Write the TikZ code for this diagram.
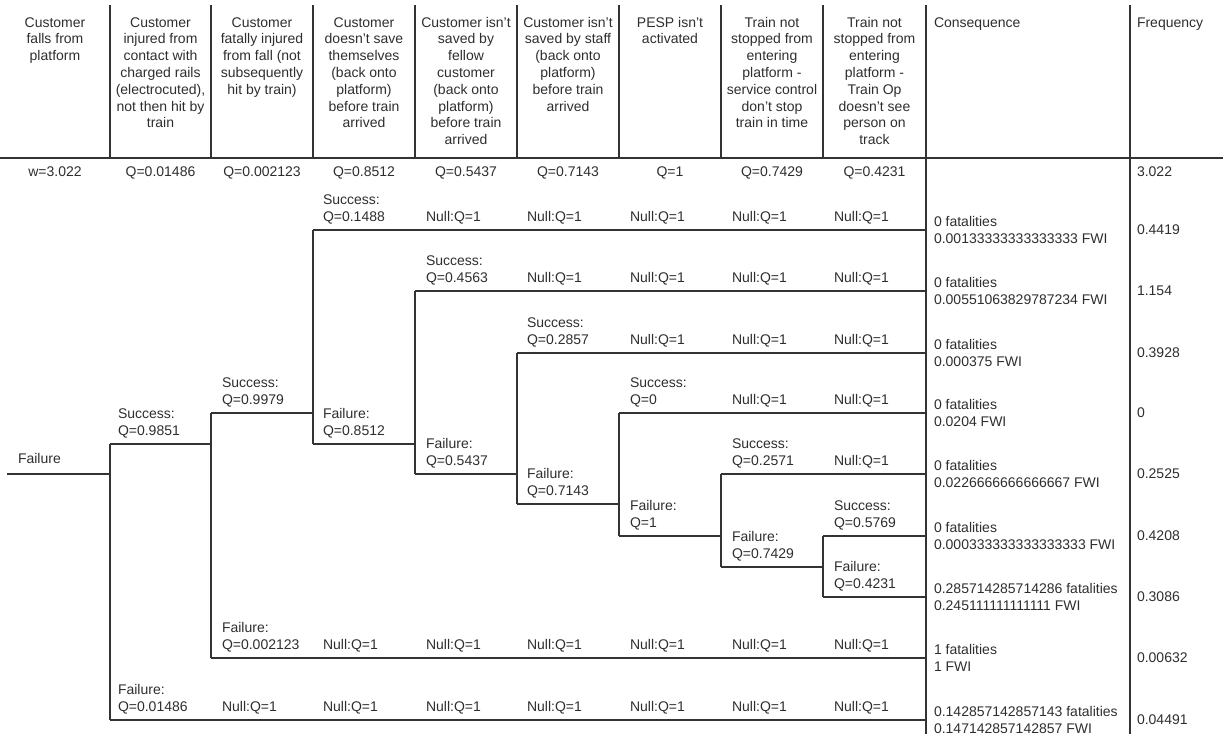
\documentclass[tikz,border=0pt]{standalone}
\usepackage{fontspec}
\setmainfont{Liberation Sans}
\definecolor{ln}{HTML}{333333}
\definecolor{tx}{HTML}{2E2E2E}
\begin{document}
\begin{tikzpicture}[x=1pt,y=-1pt,
  font=\fontsize{14}{16.8}\selectfont,
  every node/.style={inner sep=0pt,outer sep=0pt,text=tx},
  hdr/.style={anchor=base,align=center},
  lbl/.style={anchor=base west,align=left},
  grid/.style={draw=ln,line width=1.1pt},
  tree/.style={draw=ln,line width=1.1pt}]
\useasboundingbox (0,0) rectangle (1223,734);
% table grid
\draw[grid] (0,158) -- (1223,158);
\foreach \x in {110,211,313,415,517,619,721,823} \draw[grid] (\x,5) -- (\x,158);
\foreach \x in {926,1130} \draw[grid] (\x,5) -- (\x,734);
% headers (anchor = baseline of the last line; first line baseline at 27)
\node[hdr] (h1) at (55,27+2*16.8) {Customer\\falls from\\platform};
\node[hdr] (h2) at (160.5,27+6*16.8) {Customer\\injured from\\contact with\\charged rails\\(electrocuted),\\not then hit by\\train};
\node[hdr] (h3) at (262,27+4*16.8) {Customer\\fatally injured\\from fall (not\\subsequently\\hit by train)};
\node[hdr] (h4) at (364,27+6*16.8) {Customer\\doesn’t save\\themselves\\(back onto\\platform)\\before train\\arrived};
\node[hdr] (h5) at (466,27+7*16.8) {Customer isn’t\\saved by\\fellow\\customer\\(back onto\\platform)\\before train\\arrived};
\node[hdr] (h6) at (568,27+5*16.8) {Customer isn’t\\saved by staff\\(back onto\\platform)\\before train\\arrived};
\node[hdr] (h7) at (670,27+1*16.8) {PESP isn’t\\activated};
\node[hdr] (h8) at (772,27+6*16.8) {Train not\\stopped from\\entering\\platform -\\service control\\don’t stop\\train in time};
\node[hdr] (h9) at (874.5,27+7*16.8) {Train not\\stopped from\\entering\\platform -\\Train Op\\doesn’t see\\person on\\track};
\node[lbl] (hc) at (934,27) {Consequence};
\node[lbl] (hf) at (1137,27) {Frequency};
% values row
\node[hdr] (v1) at (55,176) {w=3.022};
\node[hdr] (v2) at (160.5,176) {Q=0.01486};
\node[hdr] (v3) at (262,176) {Q=0.002123};
\node[hdr] (v4) at (364,176) {Q=0.8512};
\node[hdr] (v5) at (466,176) {Q=0.5437};
\node[hdr] (v6) at (568,176) {Q=0.7143};
\node[hdr] (v7) at (670,176) {Q=1};
\node[hdr] (v8) at (772,176) {Q=0.7429};
\node[hdr] (v9) at (874.5,176) {Q=0.4231};
\node[lbl] (vf) at (1137,176) {3.022};
% tree coordinates
\coordinate (r) at (7,474);
\coordinate (a) at (110,474); \coordinate (as) at (110,444); \coordinate (af) at (110,720);
\coordinate (b) at (211,444); \coordinate (bs) at (211,413); \coordinate (bf) at (211,658);
\coordinate (c) at (313,413); \coordinate (cs) at (313,230); \coordinate (cf) at (313,444);
\coordinate (d) at (415,444); \coordinate (ds) at (415,291); \coordinate (df) at (415,474);
\coordinate (e) at (517,474); \coordinate (es) at (517,353); \coordinate (ef) at (517,504);
\coordinate (f) at (619,504); \coordinate (fs) at (619,413); \coordinate (ff) at (619,536);
\coordinate (g) at (721,536); \coordinate (gs) at (721,474); \coordinate (gf) at (721,567);
\coordinate (h) at (823,567); \coordinate (hs) at (823,536); \coordinate (hf) at (823,597);
\foreach \y [count=\i from 0] in {230,291,353,413,474,536,597,658,720}
  \coordinate (t\i) at (926,\y);
% tree lines
\draw[tree] (r) -- (a);
\draw[tree] (as) -- (af); \draw[tree] (as) -- (b); \draw[tree] (af) -- (t8);
\draw[tree] (bs) -- (bf); \draw[tree] (bs) -- (c); \draw[tree] (bf) -- (t7);
\draw[tree] (cs) -- (cf); \draw[tree] (cs) -- (t0); \draw[tree] (cf) -- (d);
\draw[tree] (ds) -- (df); \draw[tree] (ds) -- (t1); \draw[tree] (df) -- (e);
\draw[tree] (es) -- (ef); \draw[tree] (es) -- (t2); \draw[tree] (ef) -- (f);
\draw[tree] (fs) -- (ff); \draw[tree] (fs) -- (t3); \draw[tree] (ff) -- (g);
\draw[tree] (gs) -- (gf); \draw[tree] (gs) -- (t4); \draw[tree] (gf) -- (h);
\draw[tree] (hs) -- (hf); \draw[tree] (hs) -- (t5); \draw[tree] (hf) -- (t6);
% branch labels (anchor = baseline of second line, 9 above the branch line)
\node[lbl] (lroot) at (18,463) {Failure};
\node[lbl] (la-s) at (118,435) {Success:\\Q=0.9851};
\node[lbl] (la-f) at (118,711) {Failure:\\Q=0.01486};
\node[lbl] (lb-s) at (222,404) {Success:\\Q=0.9979};
\node[lbl] (lb-f) at (222,649) {Failure:\\Q=0.002123};
\node[lbl] (lc-s) at (323,221) {Success:\\Q=0.1488};
\node[lbl] (lc-f) at (323,435) {Failure:\\Q=0.8512};
\node[lbl] (ld-s) at (426,282) {Success:\\Q=0.4563};
\node[lbl] (ld-f) at (426,465) {Failure:\\Q=0.5437};
\node[lbl] (le-s) at (527,344) {Success:\\Q=0.2857};
\node[lbl] (le-f) at (527,495) {Failure:\\Q=0.7143};
\node[lbl] (lf-s) at (630,404) {Success:\\Q=0};
\node[lbl] (lf-f) at (630,527) {Failure:\\Q=1};
\node[lbl] (lg-s) at (732,465) {Success:\\Q=0.2571};
\node[lbl] (lg-f) at (732,558) {Failure:\\Q=0.7429};
\node[lbl] (lh-s) at (834,527) {Success:\\Q=0.5769};
\node[lbl] (lh-f) at (834,588) {Failure:\\Q=0.4231};
% null labels
\foreach \x/\y in {426/221,527/221,630/221,732/221,834/221,
  527/282,630/282,732/282,834/282,
  630/344,732/344,834/344,
  732/404,834/404,
  834/465,
  323/649,426/649,527/649,630/649,732/649,834/649,
  222/711,323/711,426/711,527/711,630/711,732/711,834/711}
  \node[lbl] (n-\x-\y) at (\x,\y) {Null:Q=1};
% consequences and frequencies
\foreach \y/\fa/\fw/\fr [count=\i] in {
  230/0/0.00133333333333333/0.4419,
  291/0/0.00551063829787234/1.154,
  353/0/0.000375/0.3928,
  413/0/0.0204/0,
  474/0/0.0226666666666667/0.2525,
  536/0/0.000333333333333333/0.4208,
  597/0.285714285714286/0.245111111111111/0.3086,
  658/1/1/0.00632,
  720/0.142857142857143/0.147142857142857/0.04491}{
  \node[lbl] (cq\i) at (934,\y+13) {\fa{} fatalities\\\fw{} FWI};
  \node[lbl] (fq\i) at (1137,\y+4) {\fr};
}
\end{tikzpicture}
\end{document}
